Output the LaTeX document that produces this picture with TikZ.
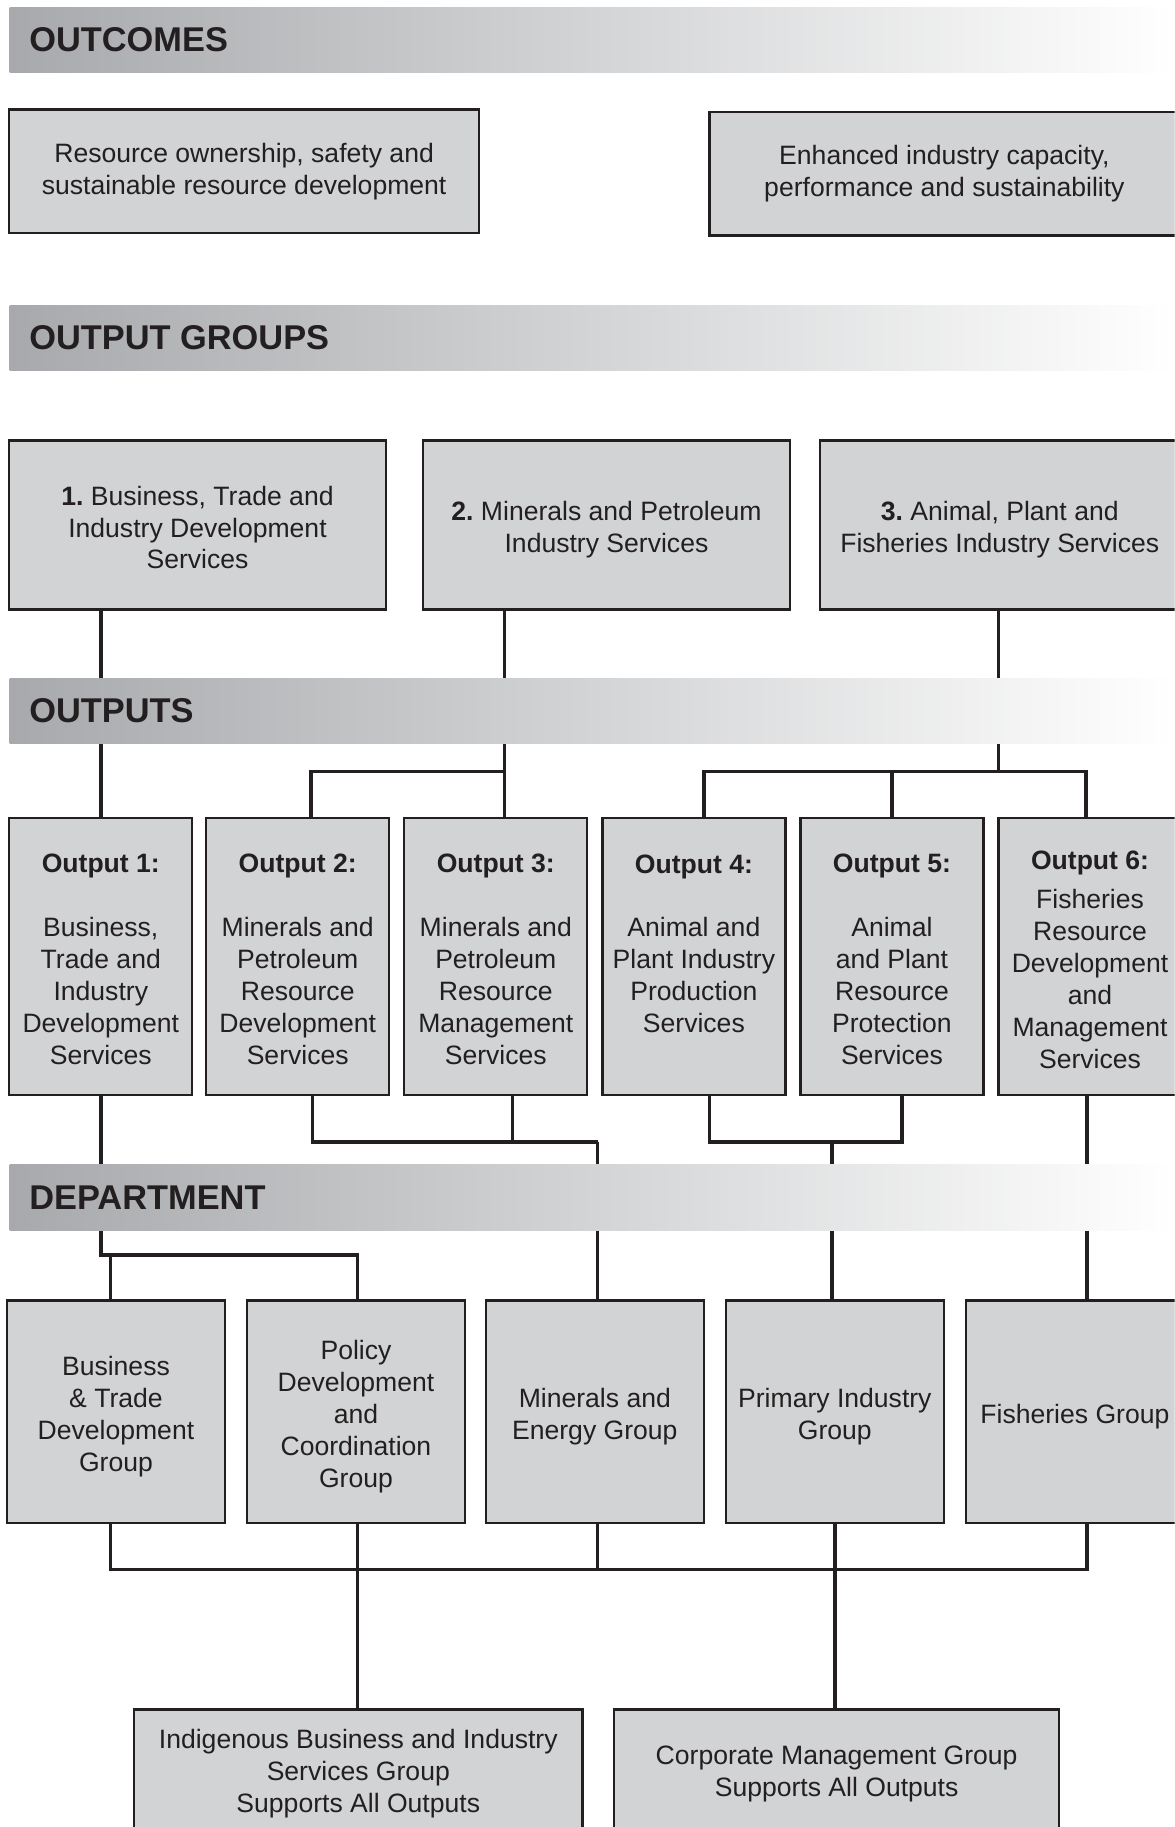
\documentclass[tikz,border=0pt]{standalone}
\usepackage{fontspec}
\setmainfont{Liberation Sans}
\frenchspacing
\definecolor{ink}{HTML}{231F20}
\definecolor{boxfill}{HTML}{D1D3D4}
\definecolor{banL}{HTML}{A7A9AC}
\newcommand{\lowA}{\rule{0pt}{21pt}}
\newcommand{\lowB}{\rule{0pt}{25pt}}
\begin{document}
\begin{tikzpicture}[x=1pt,y=-1pt,
  box/.style={draw=ink, fill=boxfill, line width=2pt, rectangle, inner sep=0pt, align=center, text=ink, font=\fontsize{22.8}{27.4}\selectfont},
  outbox/.style={box, minimum width=157pt, minimum height=238pt},
  deptbox/.style={box, minimum width=187pt, minimum height=191pt},
  conn/.style={draw=ink, line width=3pt},
  banner/.style={left color=banL, right color=white, draw=none, minimum width=1000pt, minimum height=56pt, inner sep=0pt, anchor=north west},
  bantitle/.style={anchor=west, inner sep=0pt, text=ink, font=\fontsize{29.5}{34}\selectfont\bfseries},
]
\clip (0,0) rectangle (1008,1568);
\fill[white] (0,0) rectangle (1008,1568);

% outcomes
\node[box, minimum width=403pt, minimum height=106pt] (oc1) at (209.5,147) {Resource ownership, safety and\\sustainable resource development};
\node[box, minimum width=403pt, minimum height=106pt] (oc2) at (810.5,149) {Enhanced industry capacity,\\performance and sustainability};

% output groups
\node[box, minimum width=323pt, minimum height=145pt] (g1) at (169.5,450.5) {\lowA\textbf{1.} Business, Trade and\\Industry Development\\Services};
\node[box, minimum width=315pt, minimum height=145pt] (g2) at (520.5,450.5) {\lowB\textbf{2.} Minerals and Petroleum\\Industry Services};
\node[box, minimum width=308pt, minimum height=145pt] (g3) at (858,450.5) {\lowB\textbf{3.} Animal, Plant and\\Fisheries Industry Services};

% outputs
\node[outbox] (o1) at (86.5,821) {\lowA\textbf{Output 1:}\\[27.4pt]Business,\\Trade and\\Industry\\Development\\Services};
\node[outbox] (o2) at (255.5,821) {\lowA\textbf{Output 2:}\\[27.4pt]Minerals and\\Petroleum\\Resource\\Development\\Services};
\node[outbox] (o3) at (425.5,821) {\lowA\textbf{Output 3:}\\[27.4pt]Minerals and\\Petroleum\\Resource\\Management\\Services};
\node[outbox] (o4) at (595.5,821) {\lowA\textbf{Output 4:}\\[27.4pt]Animal and\\Plant Industry\\Production\\Services\\\mbox{}};
\node[outbox] (o5) at (765.5,821) {\lowA\textbf{Output 5:}\\[27.4pt]Animal\\and Plant\\Resource\\Protection\\Services};
\node[outbox] (o6) at (935.5,821) {\lowA\textbf{Output 6:}\\[6.6pt]Fisheries\\Resource\\Development\\and\\Management\\Services};

% department
\node[deptbox] (d1) at (99.5,1211.5) {\lowB Business\\\& Trade\\Development\\Group};
\node[deptbox] (d2) at (305.5,1211.5) {\lowB Policy\\Development\\and\\Coordination\\Group};
\node[deptbox] (d3) at (510.5,1211.5) {\lowB Minerals and\\Energy Group};
\node[deptbox] (d4) at (716.5,1211.5) {\lowB Primary Industry\\Group};
\node[deptbox] (d5) at (922.5,1211.5) {\lowB Fisheries Group};

% support groups
\node[box, minimum width=385pt, minimum height=106pt] (ind) at (307.5,1520) {\lowA Indigenous Business and Industry\\Services Group\\Supports All Outputs};
\node[box, minimum width=382pt, minimum height=106pt] (corp) at (718,1520) {\lowA Corporate Management Group\\Supports All Outputs};

% junctions
\coordinate (jA) at (433,662);
\coordinate (jB) at (857,662);
\coordinate (jC) at (513,980);
\coordinate (jD) at (714,980);
\coordinate (jE) at (86.5,1077);
\coordinate (jF) at (305.5,1347);

% connectors groups -> outputs
\draw[conn] (g1.south -| o1.north) -- (o1.north);
\draw[conn] (g2.south -| jA) -- (o3.north -| jA);
\draw[conn] (jA) -| ([xshift=11.5pt]o2.north);
\draw[conn] (g3.south -| jB) -- (jB);
\draw[conn] ([xshift=8.5pt]o4.north) |- (jB) -| ([xshift=-3.5pt]o6.north);
\draw[conn] (o5.north) -- (o5.north |- jB);

% connectors outputs -> department
\draw[conn] ([xshift=12.5pt]o2.south) |- (jC);
\draw[conn] ([xshift=14.5pt]o3.south) -- ([xshift=14.5pt]o3.south |- jC);
\draw[conn] (jC) -- (d3.north -| jC);
\draw[conn] ([xshift=13.5pt]o4.south) |- ([xshift=8.5pt]o5.south |- jD) -- ([xshift=8.5pt]o5.south);
\draw[conn] (jD) -- (d4.north -| jD);
\draw[conn] ([xshift=-2.5pt]o6.south) -- ([xshift=-2.5pt]o6.south |- d5.north);
\draw[conn] (o1.south) |- ([xshift=1.5pt]d2.north |- jE) -- ([xshift=1.5pt]d2.north);
\draw[conn] ([xshift=-4.5pt]d1.north) -- ([xshift=-4.5pt]d1.north |- jE);

% department bus
\draw[conn] ([xshift=-4.5pt]d1.south) |- ([xshift=10.5pt]d5.south |- jF) -- ([xshift=10.5pt]d5.south);
\draw[conn] ([xshift=1.5pt]d2.south) -- ([xshift=1.5pt]d2.south |- ind.north);
\draw[conn] (d3.south -| jC) -- (jC |- jF);
\draw[conn] (d4.south) -- (d4.south |- corp.north);

% banners
\node[banner] (b1) at (8,6) {};
\node[bantitle] at ([xshift=17pt]b1.west) {OUTCOMES};
\node[banner] (b2) at (8,262) {};
\node[bantitle] at ([xshift=17pt]b2.west) {OUTPUT GROUPS};
\node[banner] (b3) at (8,582) {};
\node[bantitle] at ([xshift=17pt]b3.west) {OUTPUTS};
\node[banner] (b4) at (8,999.5) {};
\node[bantitle] at ([xshift=17pt]b4.west) {DEPARTMENT};
\end{tikzpicture}
\end{document}
